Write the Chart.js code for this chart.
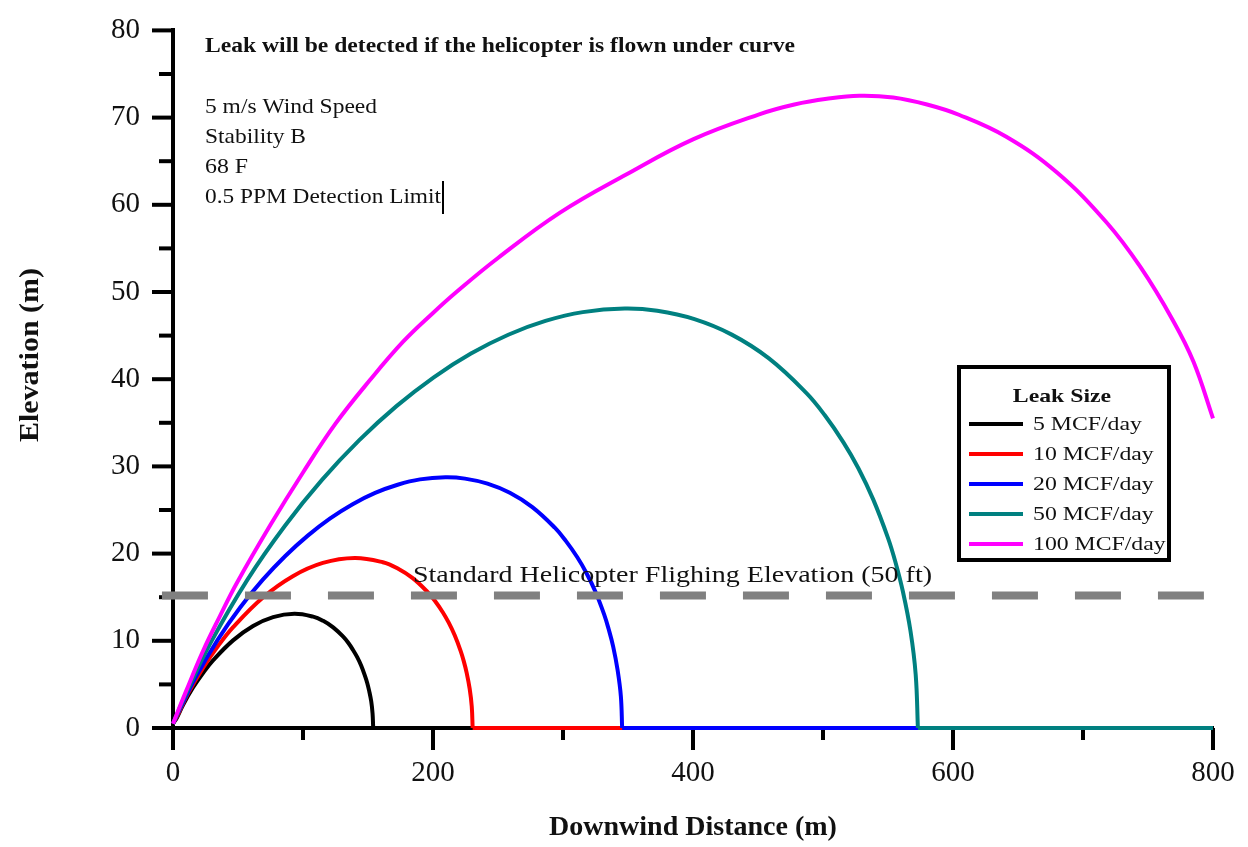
<!DOCTYPE html>
<html><head><meta charset="utf-8">
<script src="https://cdn.jsdelivr.net/npm/chart.js@4.4.1/dist/chart.umd.min.js"></script>
<style>html,body{margin:0;padding:0;background:#fff}</style>
</head><body>
<canvas id="c" width="1248" height="847"></canvas>
<script>
// ---- data ----
const seriesLabels = ['5 MCF/day', '10 MCF/day', '20 MCF/day', '50 MCF/day', '100 MCF/day'];
const seriesColors = ['#000000', '#ff0000', '#0000ff', '#008080', '#ff00ff'];

const dist5  = [0, 3.1, 7.7, 15.4, 23.1, 30.8, 46.2, 61.6, 77, 93.4, 107.8, 115.5, 123.2, 130.9, 134.8, 138.6, 141.7, 144.8, 147.8, 149.4, 150.9, 152.5, 153.5, 154];
const elev5  = [0.5, 1.21, 2.64, 4.64, 6.31, 7.75, 10.05, 11.70, 12.72, 13.1, 12.77, 12.29, 11.54, 10.47, 9.77, 8.92, 8.12, 7.14, 5.92, 5.17, 4.26, 3.03, 1.67, 0];

const dist10 = [0, 4.6, 11.5, 23.1, 34.6, 46.1, 69.2, 92.2, 115.3, 139.8, 161.4, 172.9, 184.4, 195.9, 201.7, 207.5, 212.1, 216.7, 221.3, 223.6, 225.9, 228.2, 229.8, 230.5];
const elev10 = [0.5, 1.80, 3.94, 6.90, 9.39, 11.54, 14.97, 17.41, 18.93, 19.5, 19.01, 18.29, 17.18, 15.58, 14.54, 13.28, 12.08, 10.63, 8.82, 7.70, 6.33, 4.51, 2.49, 0];

const dist20 = [0, 6.9, 17.3, 34.6, 51.8, 69.1, 86.4, 103.7, 120.9, 138.2, 155.5, 172.8, 190.0, 209.5, 224.6, 241.9, 259.1, 276.4, 293.7, 302.3, 311.0, 317.9, 324.8, 331.7, 335.1, 338.6, 342.0, 344.5, 345.5];
const elev20 = [0.5, 2.65, 5.80, 10.17, 13.85, 17.01, 19.73, 22.06, 24.04, 25.67, 26.96, 27.90, 28.51, 28.75, 28.60, 28.02, 26.97, 25.33, 22.97, 21.43, 19.58, 17.81, 15.68, 13.00, 11.35, 9.34, 6.65, 3.66, 0];

const dist50 = [0, 11.5, 28.7, 57.3, 86.0, 114.6, 143.3, 171.9, 200.6, 229.2, 257.9, 286.5, 315.2, 347.5, 372.5, 401.1, 429.8, 458.4, 487.1, 501.4, 515.7, 527.2, 538.6, 550.1, 555.8, 561.5, 567.3, 571.3, 573];
const elev50 = [0.5, 4.43, 9.71, 17.02, 23.17, 28.45, 33.01, 36.91, 40.22, 42.94, 45.10, 46.68, 47.69, 48.10, 47.84, 46.88, 45.11, 42.38, 38.43, 35.86, 32.76, 29.79, 26.22, 21.75, 18.98, 15.62, 11.13, 6.13, 0];

const dist100 = [0, 10, 23, 36, 49, 75, 100, 125, 151.5, 177, 200, 218, 250, 297.7, 349, 400, 451.5, 478, 503, 528, 554, 580, 605, 641, 680, 718, 744, 769, 785, 800];
const elev100 = [0.5, 4.2, 8.8, 12.8, 16.6, 23.3, 29.3, 34.9, 39.9, 44.3, 47.6, 50.0, 53.9, 59.1, 63.5, 67.5, 70.4, 71.5, 72.15, 72.5, 72.3, 71.5, 70.3, 67.8, 63.7, 58.0, 52.9, 46.8, 42.0, 35.5];

// ground runs (elevation 0) after each curve reaches the ground
const groundDist5  = [154, 800];
const groundDist10 = [230.5, 800];
const groundDist20 = [345.5, 800];
const groundDist50 = [573, 800];
const groundElev   = [0, 0];

const flightDist = [-8.5, 793];
const flightElev = [15.2, 15.2];
const flightLabel = 'Standard Helicopter Flighing Elevation (50 ft)';

const xTicks = [0, 200, 400, 600, 800];
const xMinor = [100, 300, 500, 700];
const yTicks = [0, 10, 20, 30, 40, 50, 60, 70, 80];
const yMinor = [5, 15, 25, 35, 45, 55, 65, 75];

const noteTitle = 'Leak will be detected if the helicopter is flown under curve';
const noteLines = ['5 m/s Wind Speed', 'Stability B', '68 F', '0.5 PPM Detection Limit'];
const legendTitle = 'Leak Size';
const xTitle = 'Downwind Distance (m)';
const yTitle = 'Elevation (m)';

// ---- build ----
const allDist = [dist5, dist10, dist20, dist50, dist100];
const allElev = [elev5, elev10, elev20, elev50, elev100];
const allGround = [groundDist5, groundDist10, groundDist20, groundDist50, null];
const pts = (xs, ys) => xs.map((x, i) => ({x: x, y: ys[i]}));

const datasets = [];
allDist.forEach((d, i) => {
  datasets.push({
    label: seriesLabels[i],
    data: pts(d, allElev[i]),
    borderColor: seriesColors[i],
    borderWidth: 4,
    pointRadius: 0,
    fill: false,
    tension: 0.4,
    clip: false,
    order: 5 - i
  });
  if (allGround[i]) {
    datasets.push({
      label: seriesLabels[i] + ' ground',
      data: pts(allGround[i], groundElev),
      borderColor: seriesColors[i],
      borderWidth: 4,
      pointRadius: 0,
      fill: false,
      tension: 0,
      clip: false,
      order: 5 - i
    });
  }
});
datasets.push({
  label: 'flight',
  data: pts(flightDist, flightElev),
  borderColor: '#808080',
  borderWidth: 8,
  borderDash: [46, 37],
  borderCapStyle: 'butt',
  pointRadius: 0,
  fill: false,
  tension: 0,
  clip: false,
  order: 0
});

const SERIF = '"Liberation Serif", "Times New Roman", serif';

function fitText(ctx, text, x, y, font, w) {
  ctx.save();
  ctx.font = font;
  const m = ctx.measureText(text).width;
  ctx.translate(x, y);
  ctx.scale(w / m, 1);
  ctx.textBaseline = 'alphabetic';
  ctx.textAlign = 'left';
  ctx.fillText(text, 0, 0);
  ctx.restore();
}
function scaledText(ctx, text, x, y, font, sx, align) {
  ctx.save();
  ctx.font = font;
  const m = ctx.measureText(text).width * sx;
  let x0 = x;
  if (align === 'center') x0 = x - m / 2;
  ctx.translate(x0, y);
  ctx.scale(sx, 1);
  ctx.textBaseline = 'alphabetic';
  ctx.textAlign = 'left';
  ctx.fillText(text, 0, 0);
  ctx.restore();
}

const decor = {
  id: 'decor',
  beforeDatasetsDraw(chart) {
    const ctx = chart.ctx, xs = chart.scales.x, ys = chart.scales.y;
    const ax = chart.chartArea.left, ay = chart.chartArea.bottom;
    ctx.save();
    ctx.strokeStyle = '#000';
    ctx.lineWidth = 4;
    const seg = (a, b, c, d) => { ctx.beginPath(); ctx.moveTo(a, b); ctx.lineTo(c, d); ctx.stroke(); };
    yTicks.forEach(v => { const p = ys.getPixelForValue(v); seg(ax - 21, p, ax, p); });
    yMinor.forEach(v => { const p = ys.getPixelForValue(v); seg(ax - 14, p, ax, p); });
    xTicks.forEach(v => { const p = xs.getPixelForValue(v); seg(p, ay, p, ay + 22); });
    xMinor.forEach(v => { const p = xs.getPixelForValue(v); seg(p, ay, p, ay + 12); });
    // y-axis title (rotated)
    ctx.fillStyle = '#111';
    ctx.save();
    ctx.translate(38, 355);
    ctx.rotate(-Math.PI / 2);
    ctx.font = 'bold 27px ' + SERIF;
    const m = ctx.measureText(yTitle).width;
    ctx.scale(174 / m, 1);
    ctx.textAlign = 'center';
    ctx.textBaseline = 'alphabetic';
    ctx.fillText(yTitle, 0, 0);
    ctx.restore();
    ctx.restore();
  },
  afterDraw(chart) {
    const ctx = chart.ctx;
    ctx.save();
    ctx.fillStyle = '#111';
    // notes
    fitText(ctx, noteTitle, 205, 52, 'bold 20px ' + SERIF, 590);
    const noteW = [172, 101, 43, 236];
    noteLines.forEach((t, i) => fitText(ctx, t, 205, 113 + i * 30, '21px ' + SERIF, noteW[i]));
    ctx.strokeStyle = '#000'; ctx.lineWidth = 2;
    ctx.beginPath(); ctx.moveTo(443, 181); ctx.lineTo(443, 214); ctx.stroke();
    // flight label
    fitText(ctx, flightLabel, 413, 582, '23px ' + SERIF, 519);
    // legend box
    ctx.fillStyle = '#fff';
    ctx.fillRect(959, 367, 210, 193);
    ctx.strokeStyle = '#000'; ctx.lineWidth = 4;
    ctx.strokeRect(959, 367, 210, 193);
    ctx.fillStyle = '#111';
    scaledText(ctx, legendTitle, 1062, 402, 'bold 19px ' + SERIF, 1.25, 'center');
    seriesLabels.forEach((t, i) => {
      const y = 424 + i * 30;
      ctx.strokeStyle = seriesColors[i]; ctx.lineWidth = 4;
      ctx.beginPath(); ctx.moveTo(969, y); ctx.lineTo(1023, y); ctx.stroke();
      ctx.fillStyle = '#111';
      scaledText(ctx, t, 1033, y + 6, '19px ' + SERIF, 1.25, 'left');
    });
    ctx.restore();
  }
};

new Chart(document.getElementById('c'), {
  type: 'line',
  data: { datasets: datasets },
  options: {
    responsive: false,
    animation: false,
    devicePixelRatio: 1,
    layout: { padding: { left: 0, top: 24, right: 35, bottom: 0 } },
    plugins: { legend: { display: false }, tooltip: { enabled: false }, title: { display: false } },
    scales: {
      x: {
        type: 'linear', min: 0, max: 800,
        afterBuildTicks: s => { s.ticks = xTicks.map(v => ({ value: v })); },
        afterFit: s => { s.height = 119; },
        grid: { display: false, drawTicks: true, tickLength: 20 },
        border: { display: true, color: '#000', width: 4 },
        ticks: { padding: 8, color: '#111', font: { family: SERIF, size: 29 }, maxRotation: 0, autoSkip: false },
        title: { display: true, text: xTitle, color: '#111', font: { family: SERIF, size: 28, weight: 'bold' }, padding: { top: 0, bottom: 2 } }
      },
      y: {
        type: 'linear', min: 0, max: 80,
        afterBuildTicks: s => { s.ticks = yTicks.map(v => ({ value: v })); },
        afterFit: s => { s.width = 173; },
        grid: { display: false, drawTicks: true, tickLength: 20 },
        border: { display: true, color: '#000', width: 4 },
        ticks: { padding: 13, color: '#111', font: { family: SERIF, size: 29 }, autoSkip: false },
        title: { display: false, text: yTitle }
      }
    }
  },
  plugins: [decor]
});
</script>
</body></html>
